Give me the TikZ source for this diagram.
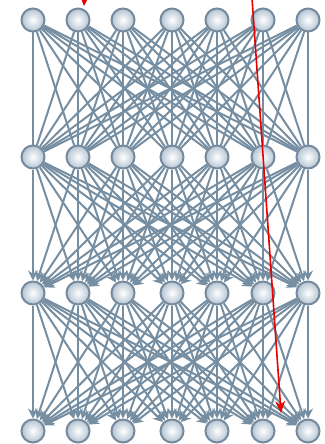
\documentclass[tikz,border=0pt]{standalone}
\usepackage{tikz}
\usetikzlibrary{arrows.meta}
\definecolor{EdgeGray}{RGB}{118,142,162}
\definecolor{NodeRim}{RGB}{118,138,158}
\definecolor{NodeFill}{RGB}{180,196,210}
\definecolor{PathRed}{RGB}{230,0,0}

\begin{document}
\begin{tikzpicture}[x=1pt,y=-1pt,>=Stealth,
    neuron/.style={circle,draw=NodeRim,line width=2pt,minimum size=23pt,inner sep=0pt,
      inner color=white,outer color=NodeFill},
    link/.style={EdgeGray,line width=2pt},
    flow/.style={link,-{Stealth[length=10pt,width=10pt]}}]
  \useasboundingbox (0,0) rectangle (324,444);
  % four layers of seven units
  \foreach \r/\y in {1/20,2/157,3/293,4/431}
    \foreach \c/\x in {1/33,2/78,3/123,4/172,5/217,6/263,7/308}
      \node[neuron] (n\r\c) at (\x,\y) {};
  % full connections between layers
  \foreach \i in {1,...,7}
    \foreach \j in {1,...,7}{
      \draw[link] (n1\i) -- (n2\j);
      \draw[flow] (n2\i) -- (n3\j);
      \draw[flow] (n3\i) -- (n4\j);
    }
  % red markers
  \coordinate (topA) at (85,-14);
  \coordinate (tipA) at (84,6);
  \coordinate (topB) at (252,-2);
  \coordinate (tipB) at (281,413);
  \draw[->,PathRed,line width=1.6pt,-{Stealth[length=9pt,width=8pt]}] (topA) -- (tipA);
  \draw[->,PathRed,line width=1.6pt,-{Stealth[length=12pt,width=10pt]}] (topB) -- (tipB);
\end{tikzpicture}
\end{document}
